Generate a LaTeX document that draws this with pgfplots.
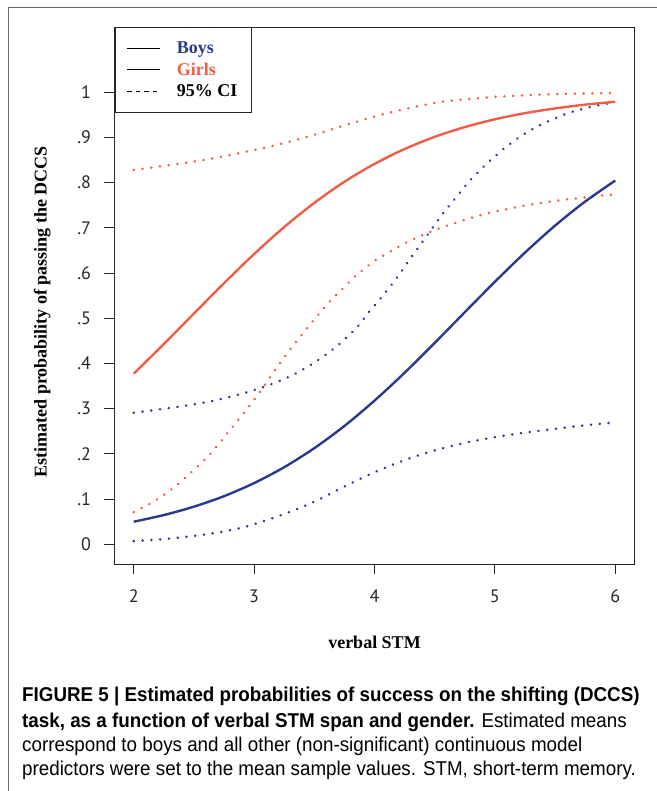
\documentclass[border=0pt]{standalone}
\usepackage{pgfplots}
\pgfplotsset{compat=1.18}
\usepackage{fontspec}
\setmainfont{Liberation Serif}
\newfontfamily\tickfont{PT Sans}
\newfontfamily\capfont[FakeStretch=0.94]{Liberation Sans}
\definecolor{boysblue}{RGB}{44,58,142}
\definecolor{girlsred}{RGB}{240,94,72}
\pgfplotsset{
  ci/.style={line width=2.8bp, line cap=round, dash pattern=on 0.01bp off 8.8bp},
  est/.style={line width=2.4bp},
}
\begin{document}
\begin{tikzpicture}[x=1bp,y=1bp]
\path[use as bounding box] (0,0) rectangle (657,791);
\draw[line width=1bp, black!60] (8,0) -- (8,783) -- (657,783);
\begin{axis}[
  at={(114.5bp,226.8bp)}, anchor=south west,
  scale only axis, width=520bp, height=537bp,
  xmin=1.84, xmax=6.16, ymin=-0.044, ymax=1.144,
  axis line style={line width=1bp, black!85},
  tick style={line width=1bp, black!85},
  tick align=outside, major tick length=10bp,
  xtick={2,3,4,5,6}, xticklabels={2,3,4,5,6},
  ytick={0,0.1,0.2,0.3,0.4,0.5,0.6,0.7,0.8,0.9,1},
  yticklabels={0,.1,.2,.3,.4,.5,.6,.7,.8,.9,1},
  xtick pos=bottom, ytick pos=left,
  ticklabel style={font=\tickfont\fontsize{18bp}{21bp}\selectfont, text=black!85},
  xticklabel style={yshift=-12bp},
  yticklabel style={xshift=-10bp},
  xlabel={\bfseries verbal STM},
  ylabel={\bfseries Estimated probability of passing the DCCS},
  label style={font=\fontsize{18bp}{21bp}\selectfont},
  xlabel style={at={(axis description cs:0.5,-0.145)}, anchor=center},
  ylabel style={at={(axis description cs:-0.139,0.47)}, anchor=center},
  legend style={at={(0,1)}, anchor=north west, draw=black!85, line width=0.8bp,
    fill=white, font=\bfseries\fontsize{18bp}{21bp}\selectfont,
    inner xsep=12bp, inner ysep=12bp, row sep=4bp,
    /tikz/every odd column/.append style={column sep=14bp}},
  legend cell align=left,
  legend image code/.code={\draw[#1] (0bp,0bp) -- (33bp,0bp);},
]
\addlegendimage{black, line width=1bp}
\addlegendentry{\textcolor{boysblue}{Boys}}
\addlegendimage{black, line width=1bp}
\addlegendentry{\textcolor{girlsred}{Girls}}
\addlegendimage{black, line width=1bp, dash pattern=on 4.5bp off 4bp}
\addlegendentry{95\% CI}

% Girls CI upper
\addplot[girlsred, ci, smooth, forget plot] coordinates {
(2.0,0.828) (2.30,0.839) (2.60,0.851) (2.89,0.866) (3.18,0.883) (3.475,0.904)
(3.765,0.928) (4.05,0.950) (4.34,0.968) (4.56,0.979) (4.785,0.985) (5.01,0.990)
(5.23,0.993) (5.455,0.9956) (5.68,0.997) (5.90,0.998) (6.0,0.9985)};
% Girls CI lower
\addplot[girlsred, ci, smooth, forget plot] coordinates {
(2.0,0.071) (2.135,0.090) (2.26,0.111) (2.38,0.136) (2.49,0.162) (2.60,0.190)
(2.70,0.220) (2.794,0.251) (2.888,0.282) (2.98,0.313) (3.068,0.345) (3.154,0.378)
(3.24,0.410) (3.33,0.442) (3.425,0.473) (3.52,0.504) (3.62,0.5345) (3.73,0.564)
(3.83,0.591) (3.946,0.616) (4.0,0.627) (4.14,0.649) (4.266,0.668) (4.40,0.684)
(4.54,0.699) (4.685,0.712) (4.825,0.724) (4.968,0.734) (5.11,0.742) (5.26,0.750)
(5.41,0.756) (5.558,0.762) (5.71,0.766) (5.857,0.771) (6.0,0.774)};
% Boys CI upper
\addplot[boysblue, ci, smooth, forget plot] coordinates {
(2.0,0.291) (2.23,0.299) (2.45,0.3075) (2.67,0.318) (2.89,0.3325) (3.10,0.350)
(3.31,0.373) (3.505,0.403) (3.69,0.439) (3.85,0.4785) (3.944,0.511) (4.04,0.5405)
(4.135,0.572) (4.224,0.604) (4.313,0.638) (4.398,0.669) (4.487,0.702) (4.575,0.734)
(4.67,0.765) (4.764,0.796) (4.866,0.825) (4.974,0.852) (5.088,0.878) (5.21,0.902)
(5.337,0.922) (5.47,0.939) (5.61,0.954) (5.757,0.965) (5.90,0.9735) (6.0,0.977)};
% Boys CI lower
\addplot[boysblue, ci, smooth, forget plot] coordinates {
(2.0,0.007) (2.23,0.011) (2.45,0.017) (2.675,0.025) (2.9,0.037) (3.11,0.054)
(3.32,0.074) (3.53,0.098) (3.73,0.125) (3.93,0.151) (4.14,0.175) (4.345,0.195)
(4.56,0.212) (4.78,0.226) (5.0,0.237) (5.22,0.246) (5.445,0.2535) (5.67,0.261)
(5.895,0.267) (6.0,0.27)};
% Girls estimate
\addplot[girlsred, est, smooth, forget plot] coordinates {
(2,0.3775) (2.25,0.4431) (2.5,0.5106) (2.75,0.5777) (3,0.6422) (3.25,0.7019)
(3.5,0.7554) (3.75,0.8020) (4,0.8416) (4.25,0.8745) (4.5,0.9014) (4.75,0.9230)
(5,0.9402) (5.25,0.9538) (5.5,0.9643) (5.75,0.9726) (6,0.9790)};
% Boys estimate
\addplot[boysblue, est, smooth, forget plot] coordinates {
(2,0.0500) (2.25,0.0647) (2.5,0.0833) (2.75,0.1065) (3,0.1354) (3.25,0.1706)
(3.5,0.2127) (3.75,0.2618) (4,0.3178) (4.25,0.3795) (4.5,0.4455) (4.75,0.5134)
(5,0.5808) (5.25,0.6453) (5.5,0.7050) (5.75,0.7583) (6,0.8047)};
\end{axis}
\node[anchor=base west, font=\capfont\fontsize{20bp}{24bp}\selectfont, inner sep=0pt] at (22,89.3)
  {\bfseries FIGURE 5 | Estimated probabilities of success on the shifting (DCCS)};
\node[anchor=base west, font=\capfont\fontsize{20bp}{24bp}\selectfont, inner sep=0pt] at (22,63.7)
  {{\bfseries task, as a function of verbal STM span and gender.} Estimated means};
\node[anchor=base west, font=\capfont\fontsize{20bp}{24bp}\selectfont, inner sep=0pt] at (22,39.3)
  {correspond to boys and all other (non-significant) continuous model};
\node[anchor=base west, font=\capfont\fontsize{20bp}{24bp}\selectfont, inner sep=0pt] at (22,15)
  {predictors were set to the mean sample values. STM, short-term memory.};
\end{tikzpicture}
\end{document}
